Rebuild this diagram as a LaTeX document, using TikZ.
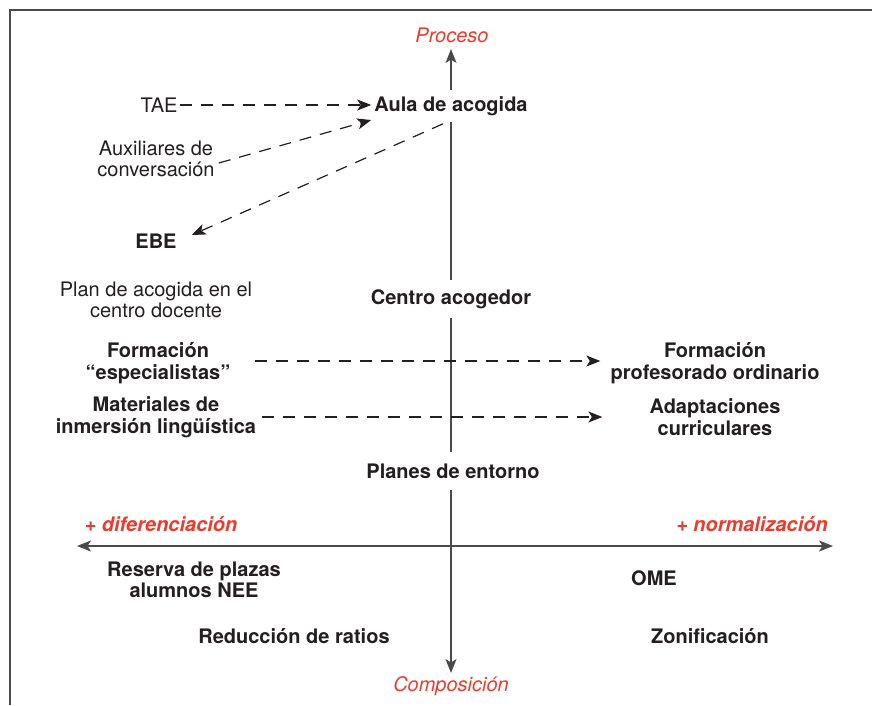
\documentclass[tikz,border=0pt]{standalone}
\usepackage{fontspec}
\setmainfont{TeX Gyre Heros}
\usetikzlibrary{arrows.meta,positioning}
\definecolor{Ink}{HTML}{231F20}
\definecolor{Rule}{HTML}{4A4A4A}
\definecolor{Accent}{HTML}{EE3A2C}
\tikzset{
  >={Stealth[length=14pt,width=11pt,inset=3.5pt]},
  lbl/.style={font=\fontsize{20}{21.5}\selectfont,text=Ink,align=center,inner sep=2pt},
  key/.style={lbl,font=\fontsize{20}{21.5}\selectfont\bfseries},
  onaxis/.style={key,fill=white,inner xsep=3pt,inner ysep=6pt},
  pole/.style={lbl,text=Accent,font=\fontsize{20}{21.5}\selectfont\itshape},
  tend/.style={pole,font=\fontsize{20}{21.5}\selectfont\bfseries\itshape},
  axis/.style={<->,line width=1.3pt,draw=Rule},
  link/.style={->,line width=1.2pt,draw=Ink,dash pattern=on 12pt off 9pt},
  frame/.style={line width=1.6pt,draw=Rule}
}

\begin{document}
\begin{tikzpicture}[x=1pt,y=-1pt]
        \useasboundingbox (0,0) rectangle (872,705);
        \draw[frame] (10,705) -- (10,10) -- (872,10);
        % axes
        \coordinate (top) at (451,49);
        \coordinate (bot) at (451,673);
        \coordinate (lft) at (77,546);
        \coordinate (rgt) at (833,546);
        \draw[axis] (top) -- (bot);
        \draw[axis] (lft) -- (rgt);
        \node[pole] (proc) at (452,35) {Proceso};
        \node[pole] (comp) at (451,686) {Composición};
        \node[tend] (dif) at (161,524) {+ diferenciación};
        \node[tend] (nor) at (752,524) {+ normalización};
        % labels on the axis
        \node[onaxis] (aula) at (451,106) {Aula de acogida};
        \node[onaxis,inner ysep=9pt] (centro) at (451,299) {Centro acogedor};
        \node[onaxis,inner ysep=12pt] (planes) at (453,471) {Planes de entorno};
        % left side
        \node[lbl] (tae) at (159,105) {TAE};
        \node[lbl] (aux) at (156,159) {Auxiliares de\\conversación};
        \node[key] (ebe) at (156,241) {EBE};
        \node[lbl] (plan) at (156,300) {Plan de acogida en el\\centro docente};
        \node[key] (fe) at (158,363) {Formación\\“especialistas”};
        \node[key] (mi) at (156,417) {Materiales de\\inmersión lingüística};
        \node[key] (fp) at (715,363) {Formación\\profesorado ordinario};
        \node[key] (ad) at (715,417) {Adaptaciones\\curriculares};
        \node[key] (res) at (194,580) {Reserva de plazas\\alumnos NEE};
        \node[key] (red) at (294,636) {Reducción de ratios};
        \node[key] (ome) at (654,578) {OME};
        \node[key] (zon) at (710,636) {Zonificación};
        % dashed links
        \draw[link] (tae) -- ([yshift=1pt]aula.west);
        \draw[link] ([xshift=2pt,yshift=-4pt]aux.east) -- ([yshift=-14pt]aula.west);
        \draw[link] ([xshift=-8pt,yshift=-2pt]aula.south) -- ([xshift=13pt,yshift=6pt]ebe.east);
        \draw[link] ([xshift=22pt,yshift=2pt]fe.east) -- ([xshift=-8pt,yshift=2pt]fp.west);
        \draw[link] ([xshift=4pt]mi.east) -- ([xshift=-45pt]ad.west);
      \end{tikzpicture}
\end{document}
